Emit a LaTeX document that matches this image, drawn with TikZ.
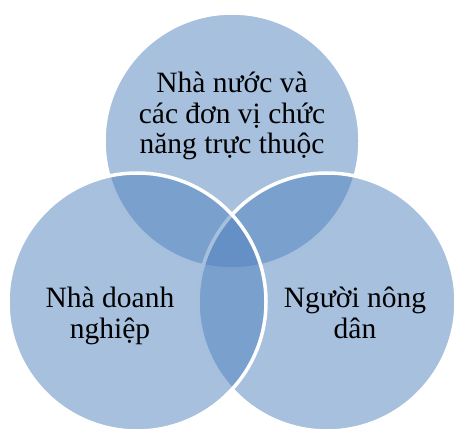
\documentclass[tikz,border=0pt]{standalone}
\usepackage{fontspec}
\setmainfont{Liberation Serif}
\begin{document}
\begin{tikzpicture}[x=1pt,y=-1pt,
  venn/.style={fill={rgb,255:red,79;green,129;blue,189},fill opacity=0.5,draw=white,draw opacity=1,line width=3.5pt},
  lbl/.style={align=center,inner sep=0pt,anchor=base,font=\fontsize{29.5}{30.5}\selectfont,text opacity=1}]
\useasboundingbox (0,0) rectangle (454,430);
\path[venn] (232,141) circle[radius=128];
\path[venn] (327,302) circle[radius=129];
\path[venn] (137,302) circle[radius=129];
\node[lbl] (top) at (232,154) {Nhà nước và\\các đơn vị chức\\năng trực thuộc};
\node[lbl] (left) at (110,338) {Nhà doanh\\nghiệp};
\node[lbl] (right) at (355,338) {Người nông\\dân};
\end{tikzpicture}
\end{document}
